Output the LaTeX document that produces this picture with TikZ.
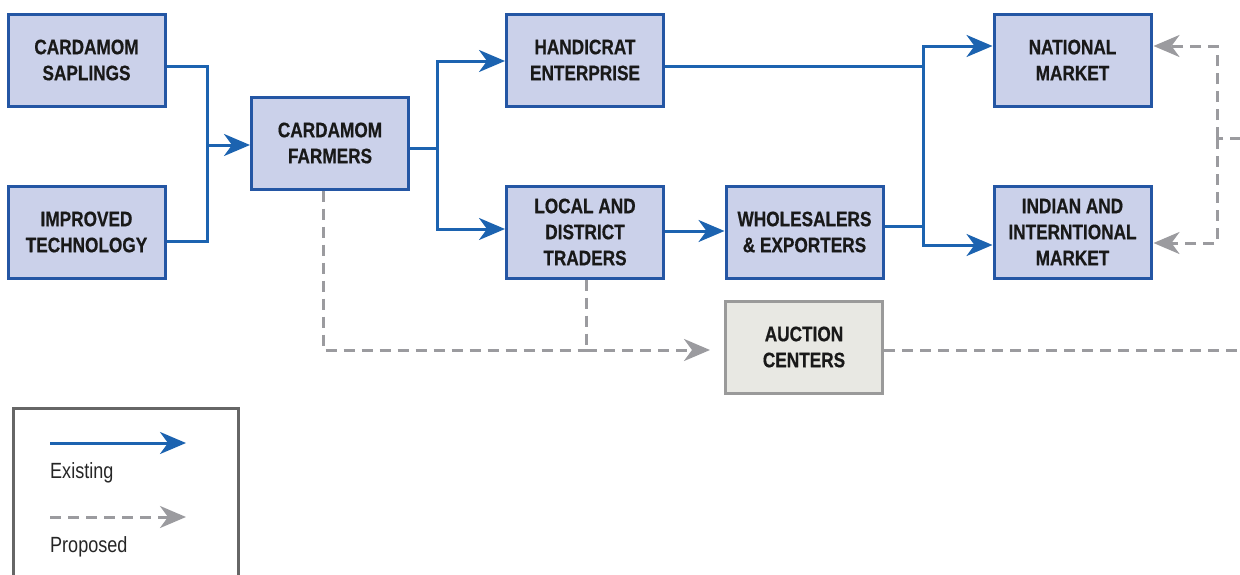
\documentclass[tikz,border=0pt]{standalone}
\usepackage{fontspec}
\setmainfont[FakeStretch=0.82, BoldFeatures={FakeBold=0.6}]{Liberation Sans}
\usetikzlibrary{arrows.meta,calc}
\definecolor{boxfill}{HTML}{CBD1EA}
\definecolor{boxline}{HTML}{2456A4}
\definecolor{flow}{HTML}{1C63B0}
\definecolor{prop}{HTML}{9B9B9F}
\definecolor{aucfill}{HTML}{E8E8E3}
\definecolor{aucline}{HTML}{9A9A9A}
\definecolor{legline}{HTML}{666666}
\tikzset{
  stage/.style={draw=boxline, line width=3pt, fill=boxfill, minimum width=157pt, minimum height=92pt,
    align=center, font=\bfseries\fontsize{21}{26}\selectfont, text=black!90, inner sep=0pt},
  auction/.style={stage, draw=aucline, fill=aucfill},
  exist/.style={draw=flow, line width=3pt},
  existarrow/.style={exist, -{Stealth[length=26pt,width=22pt,inset=8pt]}},
  proposed/.style={draw=prop, line width=3pt, dash pattern=on 11pt off 7pt},
  proparrow/.style={proposed, -{Stealth[length=26pt,width=22pt,inset=8pt]}},
  legtext/.style={font=\fontsize{22}{26}\selectfont, text=black!85, anchor=base west, inner sep=0pt}
}
\begin{document}
\begin{tikzpicture}[x=1pt,y=-1pt]
\useasboundingbox (0,0) rectangle (1240,574);
% nodes
\node[stage] (sap) at (86.5,60) {CARDAMOM\\SAPLINGS};
\node[stage] (tech) at (86.5,232) {IMPROVED\\TECHNOLOGY};
\node[stage] (farm) at (330,143) {CARDAMOM\\FARMERS};
\node[stage] (hand) at (585,60) {HANDICRAT\\ENTERPRISE};
\node[stage] (trad) at (585,232) {LOCAL AND\\DISTRICT\\TRADERS};
\node[stage] (whole) at (804.5,232) {WHOLESALERS\\\& EXPORTERS};
\node[stage] (nat) at (1072.5,60) {NATIONAL\\MARKET};
\node[stage] (ind) at (1072.5,232) {INDIAN AND\\INTERNTIONAL\\MARKET};
\node[auction] (auc) at (804,347) {AUCTION\\CENTERS};
% junctions
\coordinate (j1) at (207,145);
\coordinate (j2) at (437,148);
\coordinate (j3) at (923,66);
\coordinate (j4) at (1217,138);
\coordinate (edgeR) at (1241,138);
\coordinate (edgeA) at (1241,350);
\coordinate (jd) at (586,350);
% existing flows
\draw[exist] ($(sap.east)+(0,6)$) -| (j1);
\draw[exist] ($(tech.east)+(0,9)$) -| (j1);
\draw[existarrow] (j1) -- (farm.west |- j1);
\draw[exist] ($(farm.east)+(0,5)$) -- (j2);
\draw[existarrow] (j2) |- ($(hand.west)+(0,1)$);
\draw[existarrow] (j2) |- ($(trad.west)+(0,-3)$);
\draw[existarrow] ($(trad.east)+(0,-1)$) -- ($(whole.west)+(0,-1)$);
\draw[exist] ($(hand.east)+(0,6)$) -- (j3);
\draw[exist] ($(whole.east)+(0,-6)$) -| (j3);
\draw[existarrow] (j3) |- ($(nat.west)+(0,-14)$);
\draw[existarrow] (j3) |- ($(ind.west)+(0,13)$);
% proposed flows
\draw[proposed] ($(farm.south)+(-7,0)$) |- (jd);
\draw[proposed] ($(trad.south)+(1,0)$) -- (jd);
\draw[proparrow, shorten >=14pt] (jd) -- ($(auc.west)+(0,3)$);
\draw[proposed] ($(auc.east)+(0,3)$) -- (edgeA);
\draw[proposed] (edgeR) -- (j4);
\draw[proparrow] (j4) |- ($(nat.east)+(1,-14)$);
\draw[proparrow] (j4) |- ($(ind.east)+(1,11)$);
% legend
\node[draw=legline, line width=3pt, minimum width=225pt, minimum height=200pt, anchor=north west, inner sep=0pt] (leg) at (12,407) {};
\coordinate (l1a) at (50,443);
\coordinate (l1b) at (186,443);
\coordinate (l2a) at (50,517);
\coordinate (l2b) at (186,517);
\draw[existarrow] (l1a) -- (l1b);
\draw[proparrow] (l2a) -- (l2b);
\node[legtext] (lt1) at (50,478) {Existing};
\node[legtext] (lt2) at (50,552) {Proposed};
\end{tikzpicture}
\end{document}
